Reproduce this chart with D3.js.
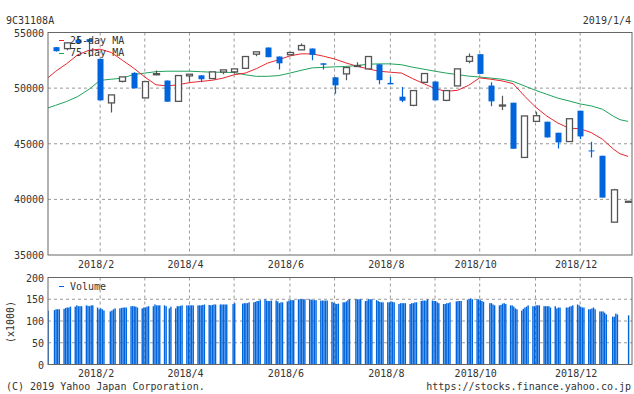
<!DOCTYPE html>
<html>
<head>
<meta charset="utf-8">
<script src="https://cdn.jsdelivr.net/npm/d3@7"></script>
<style>
  body { margin: 0; background: #fff; }
  text { font-family: "DejaVu Sans Mono", monospace; font-size: 10px; fill: #333; }
</style>
</head>
<body>
<div id="chart"></div>
<script>
// weekly candles (dated on the Wednesday of each week)
const candleDates = ["2018-01-10","2018-01-17","2018-01-24","2018-01-31","2018-02-07","2018-02-14","2018-02-21","2018-02-28",
  "2018-03-07","2018-03-14","2018-03-21","2018-03-28","2018-04-04","2018-04-11","2018-04-18","2018-04-25",
  "2018-05-02","2018-05-09","2018-05-16","2018-05-23","2018-05-30","2018-06-06","2018-06-13","2018-06-20",
  "2018-06-27","2018-07-04","2018-07-11","2018-07-18","2018-07-25","2018-08-01","2018-08-08","2018-08-15",
  "2018-08-22","2018-08-29","2018-09-05","2018-09-12","2018-09-19","2018-09-26","2018-10-03","2018-10-10",
  "2018-10-17","2018-10-24","2018-10-31","2018-11-07","2018-11-14","2018-11-21","2018-11-28","2018-12-05",
  "2018-12-12","2018-12-19","2018-12-26","2019-01-04"];
const opens  = [53680,53550,54350,54400,52630,48670,50610,51370,49120,51200,50680,48810,51100,51150,50860,51450,
  51460,51780,53050,53650,52840,53000,53440,53560,52230,50970,51280,51950,51730,52140,50470,49230,
  48450,50520,50590,48900,50200,52410,53050,50230,48450,48690,43770,47010,46980,45990,45200,47970,
  44400,43920,37950,39800];
const closes = [53320,54070,54050,54150,48900,49390,51010,49980,50590,51300,48780,51130,51250,50800,51460,51640,
  51730,52840,53260,52780,52230,53200,53830,52990,52100,50250,51850,52030,52840,50720,50340,48870,
  49780,51310,48900,49780,51730,52840,51280,48810,48480,44550,47500,47520,45570,45120,47250,45660,
  44330,40160,40860,39830];
const highs  = [53700,54070,54600,54450,52630,49390,51010,51420,50590,51580,50680,51130,51250,51150,51460,51640,
  51730,52840,53260,53650,52840,53280,54010,53560,52230,50970,51850,52320,52840,52140,51010,50110,
  49780,51310,50590,49780,51730,53110,53050,50520,49320,48690,47500,47880,46980,45990,47250,47970,
  45180,43920,40950,39830];
const lows   = [53300,53400,54000,52800,48900,47820,50500,49980,49120,51150,48780,48810,50590,50520,50860,51240,
  51300,51780,52870,52780,51670,53000,53440,52500,51670,49500,50700,51910,51730,50340,50340,48720,
  48360,50520,48900,48810,50200,52230,51280,48360,48030,44550,43770,47010,45570,44580,45200,45420,
  43770,40160,37950,39800];

// moving averages at each week
const maDates = ["2018-01-05"].concat(candleDates.slice(0, 51), ["2018-12-30", "2019-01-04"]);
const ma25 = [50900,51500,52200,53000,53400,53500,53200,52500,51800,51000,50300,50200,50300,50500,50600,50700,50900,
  51200,51350,51750,52250,52550,52900,53080,53080,52870,52620,52270,51970,51730,51520,51430,51350,50850,
  50400,49950,49710,49800,50250,50920,50800,50650,50400,49300,48300,47500,46860,46400,46350,46000,45400,
  44500,44100,43860];
const ma75 = [48210,48450,48800,49250,49900,50700,50800,50900,51220,51350,51480,51520,51520,51520,51480,51430,51430,
  51400,51200,51060,51060,51130,51350,51600,51820,51870,51910,51950,52030,52150,52180,52180,52100,51880,
  51700,51520,51350,51220,51080,51000,50900,50800,50600,50200,49800,49450,49100,48850,48580,48400,48100,
  47460,47160,47010];

// daily volume (x1000), one row per week starting Monday, Mon..Fri (null = no trading)
const volWeekStarts = ["2018-01-01","2018-01-08","2018-01-15","2018-01-22","2018-01-29","2018-02-05","2018-02-12",
  "2018-02-19","2018-02-26","2018-03-05","2018-03-12","2018-03-19","2018-03-26","2018-04-02","2018-04-09",
  "2018-04-16","2018-04-23","2018-04-30","2018-05-07","2018-05-14","2018-05-21","2018-05-28","2018-06-04",
  "2018-06-11","2018-06-18","2018-06-25","2018-07-02","2018-07-09","2018-07-16","2018-07-23","2018-07-30",
  "2018-08-06","2018-08-13","2018-08-20","2018-08-27","2018-09-03","2018-09-10","2018-09-17","2018-09-24",
  "2018-10-01","2018-10-08","2018-10-15","2018-10-22","2018-10-29","2018-11-05","2018-11-12","2018-11-19",
  "2018-11-26","2018-12-03","2018-12-10","2018-12-17","2018-12-24","2018-12-31"];
const volWeeks = [
  [null,null,null,123,124],[null,125,127,127,127],[128,130,131,131,133],[133,136,134,134,134],
  [136,135,134,136,136],[131,127,129,127,124],[null,122,124,127,129],[129,130,131,131,131],
  [134,134,134,133,131],[129,131,131,133,134],[134,138,136,136,136],[136,134,null,129,133],
  [129,134,134,135,136],[136,136,136,136,136],[136,136,136,137,138],[137,136,137,138,138],
  [138,138,138,138,138],[null,139,141,null,null],[140,141,141,141,143],[143,144,146,146,148],
  [150,147,146,146,147],[147,145,141,143,143],[145,147,148,148,148],[150,150,150,150,150],
  [150,149,148,148,148],[147,147,147,147,147],[144,142,140,139,140],[143,143,145,148,150],
  [null,150,150,150,150],[146,147,150,150,150],[148,146,144,143,143],[143,143,145,144,143],
  [139,141,141,141,141],[139,141,141,143,143],[146,147,147,147,150],[147,146,146,143,141],
  [139,139,141,141,143],[null,145,146,146,146],[null,149,150,152,150],[150,150,148,146,144],
  [null,141,141,138,136],[136,137,140,141,139],[136,136,133,129,127],[124,128,131,133,136],
  [134,134,136,136,136],[134,134,134,134,131],[134,129,131,131,null],[131,131,133,134,136],
  [138,136,133,131,131],[127,127,129,131,127],[122,122,122,119,115],[null,110,110,117,115],
  [null,null,null,null,113]];

// month grid (first week of each month) and labels
const gridDates = ["2018-02-07","2018-03-07","2018-04-04","2018-05-02","2018-06-06","2018-07-04",
  "2018-08-08","2018-09-05","2018-10-03","2018-11-07","2018-12-05"];
const gridLabels = ["2018/2","","2018/4","","2018/6","","2018/8","","2018/10","","2018/12"];
const priceTicks = [35000, 40000, 45000, 50000, 55000];
const volTicks = [0, 50, 100, 150, 200];

const parse = d3.timeParse("%Y-%m-%d");
const blue = "#0064dc", hollow = "#555", red = "#e8262e", green = "#1fa25c", grid = "#999";

const svg = d3.select("#chart").append("svg")
    .attr("width", 634)
    .attr("height", 394);

const plotL = 48, plotR = 632;
const dayPx = 1.5947;
const x = d3.scaleTime()
    .domain([parse("2018-01-04"), parse("2019-01-04")])
    .range([628 - 365 * dayPx, 628]);
const y = d3.scaleLinear().domain([35000, 55000]).range([255, 32.5]);
const yv = d3.scaleLinear().domain([0, 200]).range([364.5, 277.5]);

svg.append("defs").append("clipPath").attr("id", "clipMain")
  .append("rect").attr("x", plotL).attr("y", 32.5).attr("width", plotR - plotL).attr("height", 222.5);
svg.select("defs").append("clipPath").attr("id", "clipVol")
  .append("rect").attr("x", plotL).attr("y", 277.5).attr("width", plotR - plotL).attr("height", 87);

// header texts
svg.append("text").attr("x", 6).attr("y", 24).text("9C31108A");
svg.append("text").attr("x", 631).attr("y", 24).attr("text-anchor", "end").text("2019/1/4");

// grids
function drawGrid(y0, y1, hVals, ys) {
  svg.append("g").selectAll("line").data(gridDates).enter().append("line")
      .attr("x1", d => x(parse(d))).attr("x2", d => x(parse(d)))
      .attr("y1", y0).attr("y2", y1)
      .attr("stroke", grid).attr("stroke-dasharray", "3,3");
  svg.append("g").selectAll("line").data(hVals).enter().append("line")
      .attr("x1", plotL).attr("x2", plotR)
      .attr("y1", d => ys(d)).attr("y2", d => ys(d))
      .attr("stroke", grid).attr("stroke-dasharray", "3,3");
}
drawGrid(32.5, 255, [40000, 45000, 50000], y);
drawGrid(277.5, 364.5, [50, 100, 150], yv);

// moving averages
const main = svg.append("g").attr("clip-path", "url(#clipMain)");
const maLine = vals => d3.line()
    .x((d, i) => x(parse(d)))
    .y((d, i) => y(vals[i]))(maDates);
main.append("path").attr("d", maLine(ma75)).attr("fill", "none").attr("stroke", green).attr("stroke-width", 1);
main.append("path").attr("d", maLine(ma25)).attr("fill", "none").attr("stroke", red).attr("stroke-width", 1);

// candles
const candles = main.selectAll(".candle")
    .data(candleDates.map((d, i) => ({ date: parse(d), o: opens[i], c: closes[i], h: highs[i], l: lows[i] })))
  .enter().append("g").attr("class", "candle");
candles.append("line")
    .attr("x1", d => Math.round(x(d.date)) + 0.5).attr("x2", d => Math.round(x(d.date)) + 0.5)
    .attr("y1", d => y(d.h)).attr("y2", d => y(d.l))
    .attr("stroke", d => d.c < d.o ? blue : hollow).attr("stroke-width", 1.2);
candles.append("rect")
    .attr("x", d => Math.round(x(d.date)) - 2.5)
    .attr("width", 6)
    .attr("y", d => y(Math.max(d.o, d.c)))
    .attr("height", d => Math.max(1, y(Math.min(d.o, d.c)) - y(Math.max(d.o, d.c))))
    .attr("fill", d => d.c < d.o ? blue : "#fff")
    .attr("stroke", d => d.c < d.o ? "none" : hollow)
    .attr("stroke-width", 1.3);

// volume bars
const volData = [];
volWeekStarts.forEach((w, wi) => {
  volWeeks[wi].forEach((v, di) => {
    if (v !== null) volData.push({ date: d3.timeDay.offset(parse(w), di), v: v });
  });
});
svg.append("g").attr("clip-path", "url(#clipVol)")
  .selectAll("rect").data(volData).enter().append("rect")
    .attr("x", d => x(d.date) - 0.1)
    .attr("width", 1.4)
    .attr("y", d => yv(d.v))
    .attr("height", d => yv(0) - yv(d.v))
    .attr("fill", blue);

// frames
svg.append("rect").attr("x", plotL).attr("y", 32.5).attr("width", plotR - plotL).attr("height", 222.5)
    .attr("fill", "none").attr("stroke", "#666");
svg.append("rect").attr("x", plotL).attr("y", 277.5).attr("width", plotR - plotL).attr("height", 87)
    .attr("fill", "none").attr("stroke", "#666");

// axis labels
svg.append("g").selectAll("text").data(priceTicks).enter().append("text")
    .attr("x", 44).attr("y", d => y(d) + 4).attr("text-anchor", "end").text(d => d);
svg.append("g").selectAll("text").data(volTicks).enter().append("text")
    .attr("x", 44).attr("y", d => yv(d) + 4).attr("text-anchor", "end").text(d => d);
[268, 377].forEach(ty => {
  svg.append("g").selectAll("text").data(gridDates).enter().append("text")
      .attr("x", d => x(parse(d)) - 4).attr("y", ty).attr("text-anchor", "middle")
      .text((d, i) => gridLabels[i]);
});
svg.append("text").attr("transform", "translate(14,322) rotate(-90)")
    .attr("text-anchor", "middle").text("(x1000)");

// legends
svg.append("line").attr("x1", 59).attr("x2", 64).attr("y1", 40.5).attr("y2", 40.5).attr("stroke", red);
svg.append("text").attr("x", 70).attr("y", 44).text("25-day MA");
svg.append("line").attr("x1", 59).attr("x2", 64).attr("y1", 53.5).attr("y2", 53.5).attr("stroke", green);
svg.append("text").attr("x", 70).attr("y", 56).text("75-day MA");
svg.append("line").attr("x1", 59).attr("x2", 64).attr("y1", 286.5).attr("y2", 286.5).attr("stroke", blue);
svg.append("text").attr("x", 70).attr("y", 290).text("Volume");

// footer
svg.append("text").attr("x", 6).attr("y", 390).text("(C) 2019 Yahoo Japan Corporation.");
svg.append("text").attr("x", 631).attr("y", 390).attr("text-anchor", "end").text("https://stocks.finance.yahoo.co.jp");
</script>
</body>
</html>
